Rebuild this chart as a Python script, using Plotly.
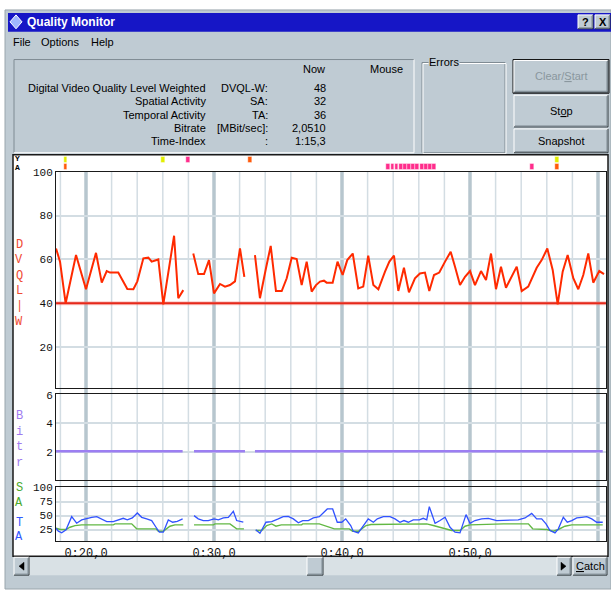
import plotly.graph_objects as go

W, H = 611, 590

# ---------------- data ----------------
DVQL_T = [17.66, 17.97, 18.41, 19.22, 20.00, 20.78, 21.23, 21.62, 21.88, 22.52, 23.23, 23.70, 24.01, 24.48,
          24.87, 25.13, 25.65, 26.04, 26.88, 27.21, 27.60, None,
          28.38, 28.77, 29.22, 29.61, 30.00, 30.47, 30.86, 31.25, 31.64, 32.03, 32.37, None,
          33.20, 33.59, 34.06, 34.43, 34.84, 35.29, 35.68, 36.07, 36.46, 36.85, 37.24, 37.63, 37.97, 38.28,
          38.59, 38.80, 39.27, 39.65, 40.05, 40.41, 40.84, 41.27, 41.66, 42.05, 42.45, 42.84, 43.36, 43.70,
          44.06, 44.40, 44.84, 45.23, 45.70, 46.09, 46.48, 46.82, 47.19, 47.60, 48.05, 48.49, 48.83, 49.22,
          49.61, 50.00, 50.39, 50.86, 51.25, 51.64, 52.03, 52.42, 52.81, 53.65, 54.04, 54.55, 55.21, 55.60,
          56.04, 56.46, 56.85, 57.24, 57.63, 58.07, 58.46, 58.85, 59.24, 59.63, 60.10, 60.47]
DVQL = [65, 59, 40, 62, 46.4, 63, 49.4, 54.7, 54, 54, 46.5, 46.4, 50, 60.5,
        60.8, 59, 60, 39.5, 70.8, 42.3, 46, None,
        62.7, 53.3, 53.3, 59.7, 44.5, 48.8, 47.6, 48.3, 50, 65, 52, None,
        62, 42.3, 56, 66.2, 45.6, 45.6, 51.4, 60.8, 60.2, 48.3, 59, 45.3, 48.3, 49.9,
        50.3, 49.4, 49.4, 59, 52.9, 59.7, 62.7, 46.8, 47.6, 61.7, 48.3, 46.4, 54.4, 59,
        61.7, 45.6, 56.2, 45, 51.4, 53.6, 54, 45.6, 52.9, 54, 59, 63.5, 56.7, 48.3,
        52.1, 54.7, 48.3, 54.7, 50.6, 62.7, 46.4, 56.7, 47.1, 56.7, 45.6, 47.6, 56.2, 59.7,
        65, 55.2, 39.5, 54.4, 62, 51.4, 46.4, 52.9, 62.7, 49.4, 54.7, 53.3]

THRESH_T = [17.66, 60.62]
THRESH = [40, 40]

BITRATE_T = [17.66, 27.55, None, 28.44, 32.42, None, 33.20, 60.37]
BITRATE = [2.05, 2.05, None, 2.05, 2.05, None, 2.05, 2.05]

TA_T = [17.66, 17.84, 18.10, 18.44, 18.88, 19.27, 19.66, 20.05, 20.45, 20.84, 21.23, 21.62, 22.13, 22.52,
        22.91, 23.23, 23.62, 24.01, 24.35, 24.74, 25.13, 25.47, 25.73, 26.04, 26.43, 26.77, 27.13, 27.55, None,
        28.44, 28.77, 29.16, 29.55, 30.00, 30.34, 30.73, 31.12, 31.51, 31.77, 32.29, None,
        33.26, 33.59, 34.06, 34.51, 35.02, 35.41, 35.80, 36.20, 36.59, 36.93, 37.37, 37.76, 38.23, 38.59,
        38.85, 39.27, 39.63, 39.98, 40.29, 40.68, 40.88, 41.27, 41.66, 42.05, 42.45, 42.76, 43.23, 43.75,
        44.14, 44.53, 44.84, 45.18, 45.57, 46.04, 46.35, 46.62, 46.82, 47.27, 47.66, 48.05, 48.44, 48.83,
        49.22, 49.69, 50.00, 50.39, 50.91, 51.43, 52.09, 52.87, 53.38, 53.77, 54.30, 54.82, 55.21, 55.60,
        55.94, 56.25, 56.64, 56.90, 57.29, 57.60, 57.95, 58.34, 58.73, 59.12, 59.51, 59.90, 60.37]
TA = [27.3, 22, 19, 24.5, 48, 36.2, 42.2, 45, 46.8, 48, 44, 39.2, 39.2, 42.7,
      45, 42.2, 45.7, 54.6, 46.8, 44, 41, 29, 20.2, 20.2, 42.2, 38, 39.7, 44, None,
      49.8, 44, 41, 41, 44, 42.2, 45.7, 46.8, 57.4, 41, 38, None,
      24.5, 18.4, 38, 39.2, 44, 48, 48.6, 44, 36.9, 41, 41, 45.7, 48, 56,
      61.7, 61.7, 38, 38, 44, 32.1, 22, 19, 32.1, 44, 38, 44, 48, 48,
      44, 38, 41, 38, 42.2, 42.2, 45, 42.2, 65.8, 36.2, 41, 46.8, 29, 20.2,
      19, 51.6, 36.2, 41, 44, 45, 41, 41, 42.2, 42.2, 45.7, 53.9, 44, 44,
      35.1, 23.2, 19, 26.2, 46.8, 38, 41, 45.7, 46.8, 48, 44, 38, 38]

SA_T = [17.66, 18.00, 18.44, 18.75, 19.14, 19.66, 22.13, 22.27, 23.57, 23.96, 25.47, 25.65, 26.04, 26.56,
        26.95, 27.60, None,
        28.44, 29.95, 30.08, 31.25, 31.77, 32.34, None,
        33.26, 33.73, 34.12, 34.51, 34.84, 35.26, 36.85, 36.93, 38.23, 38.62, 39.40, 40.57, 40.83, 41.30,
        41.88, 42.27, 46.62, 47.13, 48.31, 48.57, 49.22, 49.61, 50.00, 52.61, 54.56, 54.90, 55.99, 56.51,
        56.90, 57.42, 57.95, 60.37]
SA = [27.3, 25, 25, 29, 32, 33.3, 33.3, 35.1, 35.1, 26.2, 26.2, 22, 22, 30.9,
      33.3, 33.3, None,
      33.3, 33.3, 35.1, 35.1, 26.2, 26.2, None,
      23.2, 23.2, 32.1, 35, 31, 33.3, 33.3, 35.1, 35.1, 32.1, 26.2, 26.2, 22, 22,
      32.1, 33.9, 35.1, 32.1, 25, 23.2, 23.2, 30.9, 33.3, 35.1, 35.1, 26.2, 25, 22,
      25, 30.9, 33.3, 33.3]

MARK_TOP_T = [18.40, 26.02, 27.97, 32.81, 56.80]
MARK_TOP_C = ['#e2ee00', '#e2ee00', '#ff2d8c', '#ff5a0a', '#e2ee00']
MARK_BOT_T = [18.40, 43.61, 43.94, 44.26, 44.59, 44.92, 45.24, 45.57, 45.89, 46.22, 46.54, 46.87, 47.20,
              54.84, 56.80]
MARK_BOT_C = ['#ff5a0a'] + ['#ff2d8c'] * 12 + ['#ff2d8c', '#ff5a0a']

X_TICKS = [20, 30, 40, 50]
X_TICK_TEXT = ['0:20,0', '0:30,0', '0:40,0', '0:50,0']
DVQL_TICKS = [20, 40, 60, 80, 100]
BIT_TICKS = [2, 4, 6]
SATA_TICKS = [25, 50, 75, 100]

INFO_LABELS = ['Digital Video Quality Level Weighted', 'Spatial Activity', 'Temporal Activity',
               'Bitrate', 'Time-Index']
INFO_KEYS = ['DVQL-W:', 'SA:', 'TA:', '[MBit/sec]:', ':']
INFO_NOW = ['48', '32', '36', '2,0510', '1:15,3']

# ---------------- styling helpers ----------------
SANS = 'Liberation Sans, Arial, sans-serif'
MONO = 'Liberation Mono, Courier New, monospace'
GRAY = '#bfcbd3'
SHADOW = '#7f8b93'
DARKEDGE = '#30383c'

shapes = []
annotations = []


def px(x):
    return x / W


def py(y):
    return 1 - y / H


def rect(x0, y0, x1, y1, fill=None, line=None, lw=1):
    shapes.append(dict(type='rect', xref='paper', yref='paper', x0=px(x0), x1=px(x1), y0=py(y1), y1=py(y0),
                       fillcolor=fill if fill else 'rgba(0,0,0,0)',
                       line=dict(color=line if line else 'rgba(0,0,0,0)', width=lw if line else 0),
                       layer='below'))


def seg(x0, y0, x1, y1, color, lw=1):
    shapes.append(dict(type='line', xref='paper', yref='paper', x0=px(x0), x1=px(x1), y0=py(y0), y1=py(y1),
                       line=dict(color=color, width=lw), layer='below'))


def tri(points, color='#000'):
    p = 'M ' + ' L '.join(f'{px(a)},{py(b)}' for a, b in points) + ' Z'
    shapes.append(dict(type='path', xref='paper', yref='paper', path=p, fillcolor=color,
                       line=dict(color=color, width=0.5), layer='below'))


def bevel(x0, y0, x1, y1, raised=True, fill=GRAY):
    rect(x0, y0, x1, y1, fill=fill)
    if raised:
        seg(x0, y0, x1, y0, '#ffffff'); seg(x0, y0, x0, y1, '#ffffff')
        seg(x0, y1, x1, y1, DARKEDGE); seg(x1, y0, x1, y1, DARKEDGE)
        seg(x0 + 1, y1 - 1, x1 - 1, y1 - 1, SHADOW); seg(x1 - 1, y0 + 1, x1 - 1, y1 - 1, SHADOW)
    else:
        seg(x0, y0, x1, y0, SHADOW); seg(x0, y0, x0, y1, SHADOW)
        seg(x0, y1, x1, y1, '#ffffff'); seg(x1, y0, x1, y1, '#ffffff')


def text(x, y, s, size=11, color='#000', anchor='left', family=SANS, bg=None):
    a = dict(xref='paper', yref='paper', x=px(x), y=py(y), text=s, showarrow=False, xanchor=anchor,
             yanchor='middle', font=dict(family=family, size=size, color=color), borderpad=0)
    if bg:
        a['bgcolor'] = bg
    annotations.append(a)


# ---------------- window chrome ----------------
rect(5, 5, 611, 589, fill=GRAY, line='#9aa6ad')
rect(8, 8, 611, 27, fill='#1616c6')
shapes.append(dict(type='path', xref='paper', yref='paper',
                   path=f'M {px(16)},{py(10)} L {px(22)},{py(17)} L {px(16)},{py(24)} L {px(10)},{py(17)} Z',
                   fillcolor='#9fb6ff', line=dict(color='#ffffff', width=1), layer='below'))
text(26, 17.5, '<b>Quality Monitor</b>', size=12, color='#ffffff')
bevel(578, 10, 593, 24)
text(585.5, 17, '<b>?</b>', size=11, anchor='center')
bevel(595, 10, 610, 24)
text(602.5, 17, '<b>X</b>', size=11, anchor='center')

text(12, 37, 'File', size=11)
text(40, 37, 'Options', size=11)
text(90, 37, 'Help', size=11)

# info panel
bevel(14, 55, 414, 149, raised=False)
text(314, 64.5, 'Now', size=11, anchor='center')
text(386, 64.5, 'Mouse', size=11, anchor='center')
for i, (lab, key, now) in enumerate(zip(INFO_LABELS, INFO_KEYS, INFO_NOW)):
    yy = 83.5 + 13.5 * i
    text(207, yy, lab, size=11, anchor='right')
    text(269, yy, key, size=11, anchor='right')
    text(327, yy, now, size=11, anchor='right')

# errors group box
rect(422, 58, 505, 149, line=SHADOW)
rect(423, 59, 506, 150, line='#ffffff')
text(428, 57.5, 'Errors', size=11, bg=GRAY)

# buttons
rect(513, 55, 609, 89, fill=GRAY, line='#101010')
bevel(514, 56, 608, 88)
text(561, 72, 'Clear/<u>S</u>tart', size=11, color='#8a979e', anchor='center')
bevel(514, 91, 608, 123)
text(561, 107, 'St<u>o</u>p', size=11, anchor='center')
bevel(514, 125, 608, 149)
text(561, 137, 'Snapshot', size=11, anchor='center')

# chart panel (white)
rect(13, 151, 608, 556, fill='#ffffff', line='#1a1a1a', lw=1.5)

# scrollbar
rect(29, 557, 557, 575, fill='#d9e1e5')
bevel(14, 557, 29, 575)
tri([(19, 566), (24, 562), (24, 570)])
bevel(307, 557, 323, 575)
bevel(557, 557, 571, 575)
tri([(566, 566), (561, 562), (561, 570)])
bevel(573, 557, 607, 575)
text(590, 566, '<u>C</u>atch', size=11, anchor='center')

# vertical grid lines (through all three panels)
for t in range(18, 61, 2):
    thick = (t % 10 == 0)
    shapes.append(dict(type='line', xref='x', yref='paper', x0=t, x1=t, y0=py(541), y1=py(168),
                       line=dict(color='#b7c6ce' if thick else '#d3dde3', width=3.5 if thick else 1.5),
                       layer='below'))

# left side vertical labels
for i, ch in enumerate('DVQL|W'):
    text(19, 242 + 15.5 * i, ch, size=12, color='#f04a32', anchor='center', family=MONO)
for i, ch in enumerate('Bitr'):
    text(19, 415 + 15.5 * i, ch, size=12, color='#a07af0', anchor='center', family=MONO)
for i, ch in enumerate('SA'):
    text(19, 487 + 15 * i, ch, size=12, color='#4caa2c', anchor='center', family=MONO)
for i, ch in enumerate('TA'):
    text(19, 522 + 15 * i, ch, size=12, color='#3358ff', anchor='center', family=MONO)
text(17, 155, '<b>Y</b>', size=8, anchor='center', family=MONO)
text(17, 164, '<b>A</b>', size=8, anchor='center', family=MONO)

# ---------------- traces ----------------
fig = go.Figure()
fig.add_trace(go.Scatter(x=THRESH_T, y=THRESH, mode='lines', line=dict(color='rgba(240,110,100,0.35)', width=4),
                         xaxis='x', yaxis='y', hoverinfo='skip'))
fig.add_trace(go.Scatter(x=THRESH_T, y=THRESH, mode='lines', line=dict(color='#e8281a', width=1.8),
                         xaxis='x', yaxis='y'))
fig.add_trace(go.Scatter(x=DVQL_T, y=DVQL, mode='lines', line=dict(color='#ff2a00', width=2),
                         connectgaps=False, xaxis='x', yaxis='y'))
fig.add_trace(go.Scatter(x=BITRATE_T, y=BITRATE, mode='lines', line=dict(color='#9c7ef2', width=2.5),
                         connectgaps=False, xaxis='x2', yaxis='y2'))
fig.add_trace(go.Scatter(x=SA_T, y=SA, mode='lines', line=dict(color='#62b844', width=1.4),
                         connectgaps=False, xaxis='x3', yaxis='y3'))
fig.add_trace(go.Scatter(x=TA_T, y=TA, mode='lines', line=dict(color='#3152ff', width=1.3),
                         connectgaps=False, xaxis='x3', yaxis='y3'))
fig.add_trace(go.Bar(x=MARK_TOP_T, y=[0.85] * len(MARK_TOP_T), base=1.05, width=0.3,
                     marker=dict(color=MARK_TOP_C, line=dict(color='#ffffff', width=0.4)),
                     xaxis='x4', yaxis='y4'))
fig.add_trace(go.Bar(x=MARK_BOT_T, y=[0.85] * len(MARK_BOT_T), base=0.1, width=0.3,
                     marker=dict(color=MARK_BOT_C, line=dict(color='#ffffff', width=0.4)),
                     xaxis='x4', yaxis='y4'))

XR = [17.656, 60.625]
XDOM = [px(56), px(606)]
base_x = dict(range=XR, domain=XDOM, showgrid=False, zeroline=False, showline=True, mirror=True,
              linecolor='#1a1a1a', linewidth=1, ticks='', showticklabels=False, fixedrange=True)
base_y = dict(showgrid=True, gridcolor='#d3dde3', gridwidth=2, zeroline=False, showline=True, mirror=True,
              linecolor='#1a1a1a', linewidth=1, ticks='', fixedrange=True,
              tickfont=dict(family=MONO, size=11, color='#111'))

fig.update_layout(
    width=W, height=H, autosize=False,
    margin=dict(l=0, r=0, t=0, b=0),
    paper_bgcolor='#ffffff', plot_bgcolor='rgba(0,0,0,0)',
    showlegend=False, hovermode=False, barmode='overlay', bargap=0,
    xaxis=dict(base_x, anchor='y'),
    yaxis=dict(base_y, anchor='x', domain=[py(386), py(168)], range=[1.45, 100.1], tickvals=DVQL_TICKS),
    xaxis2=dict(base_x, anchor='y2'),
    yaxis2=dict(base_y, anchor='x2', domain=[py(479), py(392.3)], range=[0.03, 6.07], tickvals=BIT_TICKS),
    xaxis3=dict(base_x, anchor='y3', showticklabels=True, tickvals=X_TICKS, ticktext=X_TICK_TEXT,
                tickfont=dict(family=MONO, size=12, color='#111')),
    yaxis3=dict(base_y, anchor='x3', domain=[py(541), py(486)], range=[3.7, 101.2], tickvals=SATA_TICKS),
    xaxis4=dict(range=XR, domain=XDOM, visible=False, fixedrange=True, anchor='y4'),
    yaxis4=dict(range=[0, 2], domain=[py(167), py(152)], visible=False, fixedrange=True, anchor='x4'),
    shapes=shapes, annotations=annotations,
)

fig.write_html('out.html', config={'displayModeBar': False},
               post_script="document.body.style.margin='0px';document.body.style.overflow='hidden';")
